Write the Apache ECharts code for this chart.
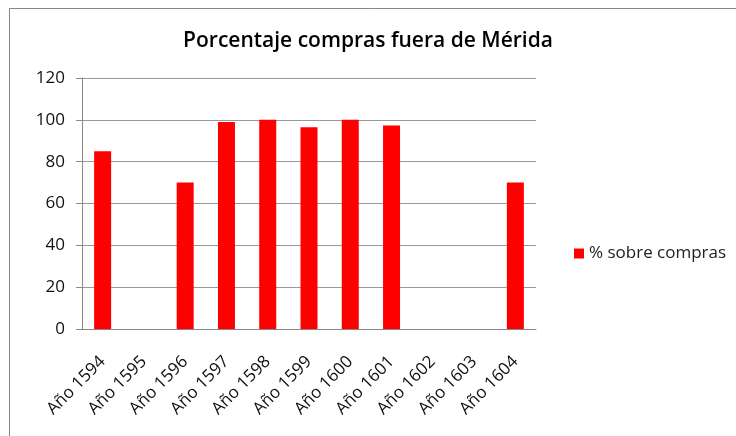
<!DOCTYPE html>
<html>
<head>
<meta charset="utf-8">
<script src="https://cdn.jsdelivr.net/npm/echarts@6/dist/echarts.min.js"></script>
<style>
  html, body { margin: 0; padding: 0; background: #fff; }
  #chart { width: 736px; height: 436px; }
</style>
</head>
<body>
<div id="chart"></div>
<script>
const years = ['Año 1594', 'Año 1595', 'Año 1596', 'Año 1597', 'Año 1598', 'Año 1599',
  'Año 1600', 'Año 1601', 'Año 1602', 'Año 1603', 'Año 1604']
const pctCompras = [85, null, 70, 99, 100, 96.5, 100, 97.3, null, null, 70]
const seriesName = '% sobre compras'

const font = 'Open Sans'
const chart = echarts.init(document.getElementById('chart'))

chart.setOption({
  animation: false,
  textStyle: { fontFamily: font },
  title: {
    text: 'Porcentaje compras fuera de Mérida',
    left: 'center',
    top: 26,
    textStyle: { fontFamily: font, fontSize: 21, fontWeight: 600, color: '#000' }
  },
  graphic: [{
    type: 'rect',
    shape: { x: 9.5, y: 8.5, width: 760, height: 460 },
    style: { fill: 'none', stroke: '#888', lineWidth: 1 },
    silent: true
  }],
  legend: {
    data: [seriesName],
    left: 569,
    top: 240,
    itemWidth: 10,
    itemHeight: 10,
    itemGap: 6,
    icon: 'rect',
    textStyle: { fontFamily: font, fontSize: 17, color: '#222' }
  },
  grid: { left: 82, right: 200, top: 78, bottom: 107 },
  xAxis: {
    type: 'category',
    data: years,
    axisLine: { lineStyle: { color: '#888' } },
    axisTick: { alignWithLabel: false, length: 5, lineStyle: { color: '#888' } },
    axisLabel: { rotate: 45, interval: 0, margin: 30, fontSize: 17, color: '#111' }
  },
  yAxis: {
    type: 'value',
    min: 0,
    max: 120,
    interval: 20,
    axisLine: { show: true, lineStyle: { color: '#888' } },
    axisTick: { show: true, length: 6, lineStyle: { color: '#888' } },
    splitLine: { lineStyle: { color: '#999' } },
    axisLabel: { margin: 17, fontSize: 17, color: '#111' }
  },
  series: [{
    name: seriesName,
    type: 'bar',
    data: pctCompras,
    barWidth: 17,
    itemStyle: { color: '#ff0000' }
  }]
})
</script>
</body>
</html>
